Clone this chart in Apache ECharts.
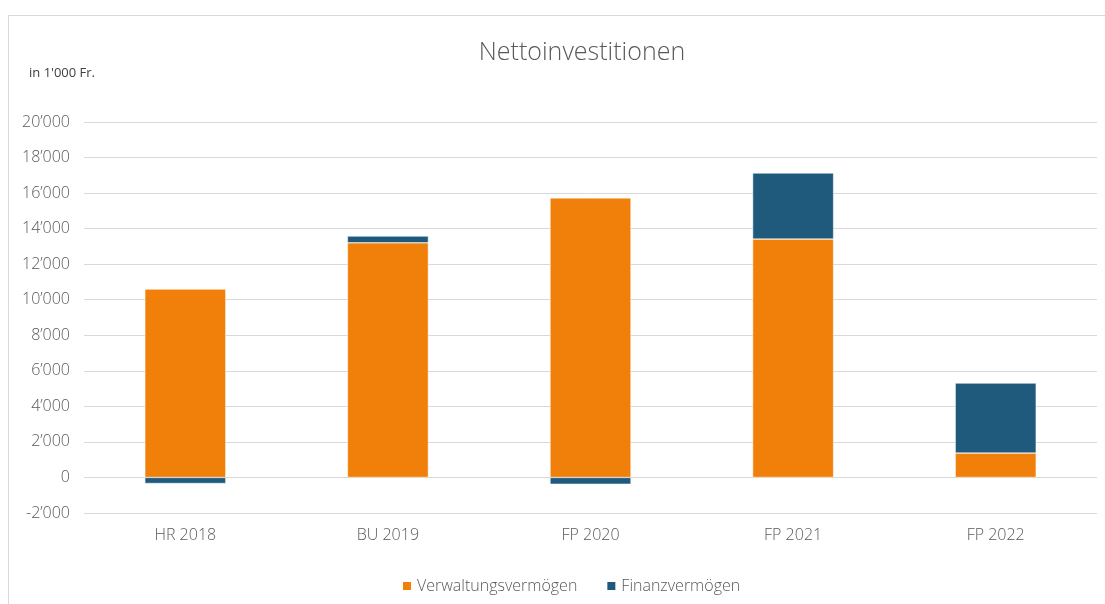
<!DOCTYPE html>
<html><head><meta charset="utf-8">
<script src="https://cdn.jsdelivr.net/npm/echarts@6/dist/echarts.min.js"></script>
<style>html,body{margin:0;padding:0;background:#fff}#c{width:1105px;height:604px}</style>
</head><body><div id="c"></div>
<script>
const categories = ['HR 2018', 'BU 2019', 'FP 2020', 'FP 2021', 'FP 2022'];
const verwaltung = [10600, 13200, 15730, 13410, 1370];
const finanz = [-340, 380, -380, 3720, 3940];
const seriesNames = ['Verwaltungsvermögen', 'Finanzvermögen'];

const fmt = v => {
  const s = Math.abs(v).toString().replace(/\B(?=(\d{3})+(?!\d))/g, '\u2019');
  return (v < 0 ? '-' : '') + s;
};
const font = '"Open Sans", "Noto Sans", sans-serif';
const chart = echarts.init(document.getElementById('c'));
chart.setOption({
  animation: false,
  textStyle: { fontFamily: font },
  graphic: [
    { type: 'rect', shape: { x: 8.5, y: 15.5, width: 1200, height: 700 }, style: { fill: 'none', stroke: '#d9d9d9', lineWidth: 1 } },
    { type: 'text', left: 29, top: 67, style: { text: "in 1'000 Fr.", fontSize: 13, fill: '#404040', fontFamily: font } },
    { type: 'text', x: 582, y: 40, style: { text: 'Nettoinvestitionen', align: 'center', fontSize: 25, fontWeight: 300, fill: '#595959', fontFamily: font } }
  ],
  legend: {
    bottom: 5, left: 396, itemWidth: 10, itemHeight: 10, itemGap: 28,
    icon: 'rect',
    textStyle: { fontSize: 16, color: '#595959', fontFamily: font, fontWeight: 300 },
    data: seriesNames
  },
  grid: { left: 84, right: 8, top: 122, bottom: 91, containLabel: false },
  xAxis: {
    type: 'category', data: categories,
    axisLine: { show: false }, axisTick: { show: false },
    axisLabel: { fontSize: 16, color: '#595959', margin: 14, fontFamily: font, fontWeight: 300 }
  },
  yAxis: {
    type: 'value', min: -2000, max: 20000, interval: 2000,
    axisLine: { show: false }, axisTick: { show: false },
    axisLabel: { fontSize: 16, color: '#595959', margin: 14, formatter: fmt, fontFamily: font, fontWeight: 300 },
    splitLine: { lineStyle: { color: '#d9d9d9', width: 1 } }
  },
  series: [
    { name: seriesNames[0], type: 'bar', stack: 'a', data: verwaltung, barWidth: 81,
      itemStyle: { color: '#F0800A', borderColor: '#ffffff', borderWidth: 0.5 } },
    { name: seriesNames[1], type: 'bar', stack: 'a', data: finanz, barWidth: 81,
      itemStyle: { color: '#1F5A7D', borderColor: '#ffffff', borderWidth: 0.5 } }
  ]
});
</script></body></html>
